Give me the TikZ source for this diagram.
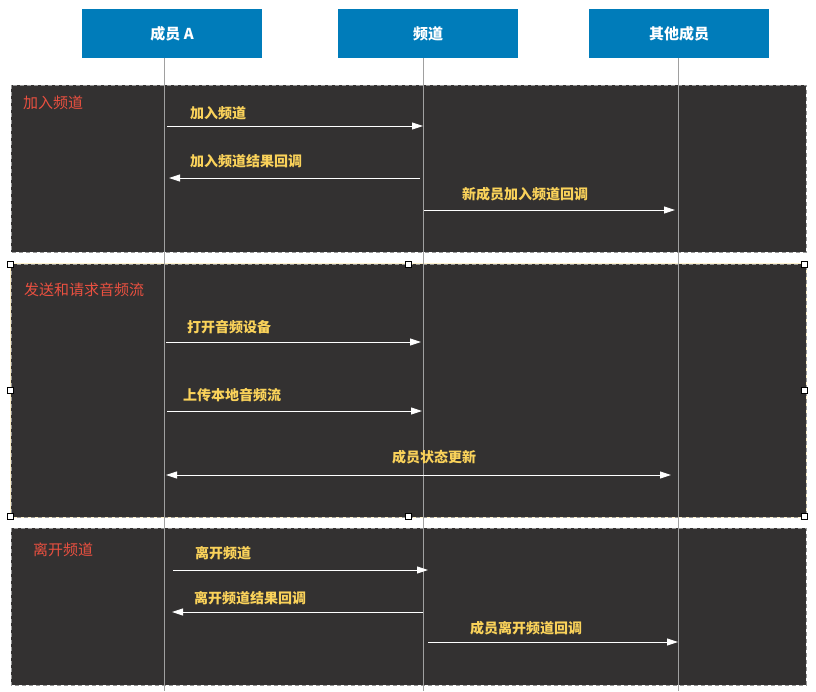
\documentclass[tikz,border=0pt]{standalone}
\usepackage{fontspec}
\setmainfont{Noto Sans CJK SC}
\usetikzlibrary{arrows.meta}
\definecolor{hdrblue}{RGB}{0,124,186}
\definecolor{grpfill}{RGB}{51,49,49}
\definecolor{grpline}{RGB}{150,150,150}
\definecolor{lifegray}{RGB}{160,160,160}
\definecolor{msgyellow}{RGB}{250,210,90}
\definecolor{grpred}{RGB}{234,80,64}
\definecolor{cream}{RGB}{255,242,204}
\tikzset{
  hdr/.style={fill=hdrblue,draw=none,text=white,font=\fontsize{15}{17}\selectfont\bfseries,minimum width=180pt,minimum height=49pt,inner sep=0pt},
  life/.style={draw=lifegray,line width=0.8pt},
  grp/.style={fill=grpfill,draw=grpline,dashed,dash pattern=on 4pt off 3pt,line width=1pt},
  grplabel/.style={text=grpred,font=\fontsize{15}{17}\selectfont,anchor=west,inner sep=0pt},
  msglabel/.style={text=msgyellow,font=\fontsize{14}{16}\selectfont\bfseries,anchor=west,inner sep=0pt},
  msg/.style={draw=white,line width=0.9pt,-{Triangle[length=11pt,width=7pt,fill=white]}},
  msgboth/.style={draw=white,line width=0.9pt,{Triangle[length=11pt,width=7pt,fill=white]}-{Triangle[length=11pt,width=7pt,fill=white]}},
  handle/.style={draw=black,fill=white,line width=0.7pt,minimum size=6pt,inner sep=0pt}
}
\begin{document}
\begin{tikzpicture}[x=1pt,y=-1pt]
\useasboundingbox (0,0) rectangle (816,691);
\fill[white] (0,0) rectangle (816,691);
% groups
\draw[draw=cream,line width=2pt] (11,264) rectangle (806,517);
\draw[grp] (11,85) rectangle (806,252);
\draw[grp] (11,264) rectangle (806,517);
\draw[grp] (11,528) rectangle (806,685);
% headers
\node[hdr] (hA) at (172,33.5) {成员 A};
\node[hdr] (hC) at (428,33.5) {频道};
\node[hdr] (hO) at (679,33.5) {其他成员};
% lifelines
\coordinate (eA) at (164.5,691);
\coordinate (eC) at (423,691);
\coordinate (eO) at (678,691);
\draw[life] (164.5,58) coordinate (sA) -- (eA);
\draw[life] (423,58) coordinate (sC) -- (eC);
\draw[life] (678,58) coordinate (sO) -- (eO);
% group labels
\node[grplabel] (g1) at (23,103) {加入频道};
\node[grplabel] (g2) at (24,290) {发送和请求音频流};
\node[grplabel] (g3) at (33,550) {离开频道};
% message coordinates
\coordinate (m1s) at (167,126); \coordinate (m1e) at (423,126);
\coordinate (m2s) at (420,178); \coordinate (m2e) at (169,178);
\coordinate (m3s) at (424,210); \coordinate (m3e) at (675,210);
\coordinate (m4s) at (166,342); \coordinate (m4e) at (421,342);
\coordinate (m5s) at (167,411); \coordinate (m5e) at (422,411);
\coordinate (m6s) at (166,475); \coordinate (m6e) at (671,475);
\coordinate (m7s) at (173,570); \coordinate (m7e) at (428,570);
\coordinate (m8s) at (423,612); \coordinate (m8e) at (172,612);
\coordinate (m9s) at (428,642); \coordinate (m9e) at (678,642);
\draw[msg] (m1s) -- (m1e);
\draw[msg] (m2s) -- (m2e);
\draw[msg] (m3s) -- (m3e);
\draw[msg] (m4s) -- (m4e);
\draw[msg] (m5s) -- (m5e);
\draw[msgboth] (m6s) -- (m6e);
\draw[msg] (m7s) -- (m7e);
\draw[msg] (m8s) -- (m8e);
\draw[msg] (m9s) -- (m9e);
% message labels
\node[msglabel] (l1) at (190,113) {加入频道};
\node[msglabel] (l2) at (190,161) {加入频道结果回调};
\node[msglabel] (l3) at (462,194) {新成员加入频道回调};
\node[msglabel] (l4) at (187,327) {打开音频设备};
\node[msglabel] (l5) at (183,395) {上传本地音频流};
\node[msglabel] (l6) at (392,457) {成员状态更新};
\node[msglabel] (l7) at (195,553) {离开频道};
\node[msglabel] (l8) at (194,598) {离开频道结果回调};
\node[msglabel] (l9) at (470,628) {成员离开频道回调};
% selection handles
\node[handle] (h1) at (10,264) {};
\node[handle] (h2) at (408,264) {};
\node[handle] (h3) at (804,264) {};
\node[handle] (h4) at (10,390) {};
\node[handle] (h5) at (804,390) {};
\node[handle] (h6) at (10,516) {};
\node[handle] (h7) at (408,516) {};
\node[handle] (h8) at (804,516) {};
\end{tikzpicture}
\end{document}
